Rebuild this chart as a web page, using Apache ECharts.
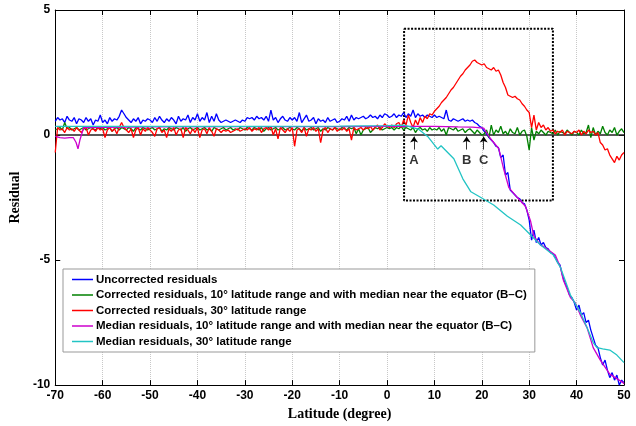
<!DOCTYPE html>
<html><head><meta charset="utf-8">
<script src="https://cdn.jsdelivr.net/npm/echarts@6/dist/echarts.min.js"></script>
<style>html,body{margin:0;padding:0;background:#fff}#c{width:636px;height:426px}</style>
</head><body><div id="c"></div>
<script>
// Sampling grid for the noisy series: -70 .. 50 every 0.5 degree
const latStart = -70, latStep = 0.5;

const xTicks = [-70,-60,-50,-40,-30,-20,-10,0,10,20,30,40,50];
const yTicks = [-10,-5,0,5];

// Uncorrected residuals (blue)
const uncorrected = [
 0.55,0.7,0.6,0.65,0.5,0.75,0.6,0.55,0.7,0.45,0.65,0.6,0.5,0.7,0.55,0.65,0.4,0.6,0.55,0.8,
 0.5,0.6,0.45,0.7,0.55,0.65,0.6,0.75,1.0,0.85,0.7,0.6,0.5,0.65,0.55,0.7,0.45,0.6,0.55,0.65,
 0.6,0.5,0.7,0.55,0.75,0.6,0.5,0.65,0.55,0.7,0.6,0.45,0.75,0.55,0.65,0.6,0.8,0.5,0.7,0.6,
 0.85,0.55,0.7,0.6,0.9,0.5,0.75,0.55,0.85,0.6,0.5,0.55,0.6,0.55,0.5,0.55,0.6,0.55,0.5,0.6,
 0.55,0.7,0.65,0.7,0.6,0.75,0.65,0.7,0.6,0.75,0.55,1.0,0.6,0.7,0.5,0.65,0.75,0.6,0.55,0.7,
 0.6,0.7,0.55,0.9,0.5,0.65,0.8,0.55,0.6,0.7,0.45,0.65,0.55,0.6,0.5,0.7,0.55,0.6,0.65,0.5,
 0.55,0.65,0.6,0.75,0.55,0.8,0.6,0.7,0.65,0.7,0.75,0.65,0.7,0.8,0.7,0.75,0.65,0.8,0.7,0.85,
 0.8,0.7,0.75,0.85,0.7,0.8,0.75,0.9,0.7,0.85,0.75,1.0,0.7,0.85,0.75,0.8,0.7,0.8,0.75,0.7,
 0.8,0.7,0.75,0.7,0.65,1.0,0.6,0.55,0.65,0.6,0.55,0.6,0.65,0.55,0.6,0.55,0.6,0.5,0.45,0.35,
 0.3,0.15,0.05,-0.1,-0.2,-0.3,-0.45,-0.5,-0.9,-0.8,-1.6,-1.5,-2.2,-2.3,-2.4,-2.5,-2.55,-2.7,-2.75,-3.0,
 -3.4,-4.2,-3.8,-4.3,-4.1,-4.4,-4.3,-4.5,-4.55,-4.7,-4.75,-4.9,-5.1,-5.2,-5.6,-5.9,-6.1,-6.4,-6.5,-6.7,
 -7.0,-6.8,-7.2,-7.1,-7.5,-7.4,-7.8,-8.1,-8.4,-8.5,-8.9,-9.2,-9.0,-9.4,-9.7,-9.5,-9.8,-9.6,-10.0,-9.8,
 -9.9
];

// Corrected residuals, 10 deg range with median near the equator (green)
const corrected10 = [
 0.2,0.25,0.3,0.2,0.5,0.25,0.3,0.2,0.25,0.3,0.2,0.25,0.3,0.2,0.25,0.3,0.25,0.2,0.3,0.25,
 0.3,0.2,0.25,0.3,0.15,0.25,0.3,0.2,0.3,0.25,0.2,0.3,0.25,0.15,0.3,0.25,0.2,0.3,0.25,0.2,
 0.25,0.3,0.2,0.25,0.3,0.15,0.25,0.2,0.3,0.25,0.2,0.3,0.25,0.2,0.3,0.15,0.25,0.3,0.2,0.25,
 0.3,0.2,0.25,0.3,0.2,0.25,0.15,0.3,0.25,0.2,0.25,0.3,0.2,0.25,0.3,0.2,0.25,0.2,0.3,0.25,
 0.2,0.3,0.25,0.2,0.3,0.25,0.2,0.3,0.15,0.25,0.3,0.2,0.25,0.3,0.2,0.25,0.3,0.2,0.25,0.3,
 0.25,0.2,0.3,0.25,0.15,0.3,0.2,0.25,0.3,0.2,0.25,0.3,0.15,0.25,0.2,0.3,0.25,0.2,0.3,0.25,
 0.2,0.3,0.25,0.2,0.3,0.25,0.3,0.05,0.25,0.0,0.2,0.25,0.3,0.1,0.2,0.3,0.25,0.3,0.2,0.25,
 0.3,0.25,0.3,0.2,0.3,0.25,0.35,0.2,0.3,0.25,0.2,0.3,0.1,0.25,0.3,0.2,0.25,0.15,0.3,0.2,
 0.25,0.2,0.3,0.15,0.25,0.0,0.3,0.25,0.2,0.3,0.15,0.2,0.25,0.1,0.2,0.25,0.15,0.05,0.2,0.1,
 0.0,0.05,0.2,-0.1,0.4,0.0,0.2,0.1,0.35,0.05,0.15,0.0,0.25,0.1,0.05,0.3,0.0,0.15,0.2,-0.05,
 -0.6,0.3,-0.2,0.15,0.05,0.2,0.1,0.0,0.15,0.1,0.05,0.2,0.0,0.15,0.1,0.05,0.2,0.1,0.0,0.15,
 0.1,0.0,0.2,0.05,0.1,0.4,-0.1,0.3,0.0,0.15,0.05,0.35,0.1,0.0,0.2,0.1,0.3,0.0,0.15,0.25,
 0.1
];

// Corrected residuals, 30 deg range (red)
const corrected30 = [
 -0.7,0.3,0.2,0.25,0.1,0.3,0.2,0.25,0.15,0.3,0.2,0.1,0.25,0.3,0.0,0.2,0.25,0.15,0.3,0.2,
 0.25,-0.1,0.2,0.3,0.15,0.25,0.05,0.3,0.5,0.3,0.2,0.1,0.25,-0.1,0.2,0.3,0.0,0.25,0.15,0.3,
 0.2,0.1,-0.05,0.25,0.3,0.1,0.2,-0.1,0.25,0.15,0.3,0.0,0.2,0.25,-0.1,0.3,0.2,0.05,0.25,0.1,
 0.3,-0.1,0.2,0.25,0.05,0.3,0.15,-0.05,0.25,0.2,0.1,0.2,0.15,0.2,0.1,0.15,0.2,0.25,0.15,0.2,
 0.25,0.2,0.3,0.15,0.25,0.2,0.3,0.1,0.25,0.3,0.2,0.35,0.0,0.25,-0.15,0.3,0.2,0.1,0.25,0.15,
 0.3,-0.45,0.2,0.25,0.1,0.3,-0.05,0.25,0.2,0.3,0.15,0.25,-0.3,0.2,0.3,0.1,0.25,0.2,0.3,0.15,
 0.25,0.2,0.3,0.15,0.25,-0.2,0.3,0.2,0.25,0.3,0.2,0.3,0.25,0.35,0.2,0.3,0.4,0.2,0.3,0.45,
 0.35,0.3,0.4,0.3,0.45,0.5,0.3,0.6,0.4,0.8,0.5,0.3,0.6,0.4,0.7,0.5,0.75,0.65,0.85,0.8,
 0.95,1.05,1.15,1.3,1.4,1.5,1.65,1.8,1.9,2.05,2.2,2.35,2.45,2.6,2.7,2.8,2.95,3.0,2.9,2.85,
 2.8,2.85,2.7,2.65,2.6,2.7,2.55,2.6,2.4,2.1,1.9,1.6,1.55,1.5,1.55,1.45,1.4,1.25,1.15,1.0,
 0.9,0.3,0.8,0.2,0.5,0.3,0.4,0.2,0.3,0.15,0.2,0.05,0.15,0.1,0.2,0.0,0.15,0.1,0.05,0.15,
 0.1,0.2,0.0,0.15,0.05,0.2,0.1,0.15,0.0,0.1,-0.3,-0.4,-0.6,-0.55,-0.8,-0.95,-1.1,-0.85,-1.0,-0.8,
 -0.7
];

// Median residuals, 10 deg range with median near the equator (purple)
const median10Lat = [-70,-69,-68,-67,-66.2,-65.6,-65.2,-64.8,-64,-50,-30,-10,0,5,10,15,18,20.4,21.9,23.6,24.6,25.7,27.5,29.2,30.3,31,32.4,33,35.5,36.6,37.2,38.7,39.7,40.8,42.2,43.5,45,47,49.8,50];
const median10Res = [-0.05,-0.1,-0.12,-0.1,-0.1,-0.3,-0.55,-0.2,0.3,0.33,0.34,0.34,0.35,0.35,0.35,0.33,0.32,0.28,-0.16,-0.55,-1.35,-2.1,-2.5,-2.85,-3.45,-4.05,-4.4,-4.45,-4.8,-5.3,-5.8,-6.5,-6.7,-7.2,-7.7,-8.5,-9.0,-9.56,-9.9,-9.95];

// Median residuals, 30 deg range (cyan)
const median30Lat = [-70,-50,-30,-10,0,3.6,6.6,8.7,10.7,11.4,14.1,16,17.7,19.8,22.5,25.4,28.2,30.3,32.4,35.1,36.6,38.7,40.8,42.2,43.5,44.3,45.5,47,48.5,50];
const median30Res = [0.35,0.35,0.35,0.36,0.38,0.4,0.24,-0.08,-0.56,-0.43,-0.95,-1.75,-2.27,-2.5,-2.8,-3.25,-3.6,-4.0,-4.4,-4.8,-5.3,-6.4,-7.1,-7.7,-8.3,-8.5,-8.55,-8.6,-8.8,-9.1];

// Annotation: dotted box and A/B/C markers
const boxLat = [3.6,35,35,3.6,3.6];
const boxRes = [4.25,4.25,-2.62,-2.62,4.25];
const markerLabels = ['A','B','C'];
const markerLat = [5.7,16.8,20.4];

const names = [
 'Uncorrected residuals',
 'Corrected residuals, 10° latitude range and with median near the equator (B–C)',
 'Corrected residuals, 30° latitude range',
 'Median residuals, 10° latitude range and with median near the equator (B–C)',
 'Median residuals, 30° latitude range'
];
const colors = ['#0000ff','#008000','#ff0000','#cc00cc','#22c4c4'];

const onGrid = arr => arr.map((v,i)=>[latStart + i*latStep, v]);
const pairs = (a,b) => a.map((v,i)=>[v,b[i]]);

const chart = echarts.init(document.getElementById('c'), null, {renderer:'canvas'});
const lineBase = {type:'line', showSymbol:false, symbol:'none', animation:false};

const option = {
 animation:false,
 grid:{left:52,right:12,top:10,bottom:37},
 xAxis:[{
   type:'value', min:-70, max:50, interval:10,
   axisLine:{onZero:false,lineStyle:{color:'#000',width:1}},
   axisTick:{inside:true,length:5,lineStyle:{color:'#000'}},
   axisLabel:{color:'#000',fontFamily:'Liberation Sans, Arial',fontWeight:'bold',fontSize:12,margin:5},
   splitLine:{show:true,lineStyle:{color:'#c8c8c8',type:'dotted',width:1}},
   name:'Latitude (degree)', nameLocation:'middle', nameGap:21,
   nameTextStyle:{color:'#000',fontFamily:'Liberation Serif, Times New Roman',fontWeight:'bold',fontSize:14}
 },{
   type:'value', min:-70, max:50, interval:10, position:'top',
   axisLine:{onZero:false,lineStyle:{color:'#000',width:1}},
   axisTick:{inside:true,length:5,lineStyle:{color:'#000'}},
   axisLabel:{show:false}, splitLine:{show:false}
 }],
 yAxis:[{
   type:'value', min:-10, max:5, interval:5,
   axisLine:{show:true,onZero:false,lineStyle:{color:'#000',width:1}},
   axisTick:{show:true,inside:true,length:5,lineStyle:{color:'#000'}},
   axisLabel:{color:'#000',fontFamily:'Liberation Sans, Arial',fontWeight:'bold',fontSize:12,margin:5},
   splitLine:{show:false},
   name:'Residual', nameLocation:'middle', nameGap:28,
   nameTextStyle:{color:'#000',fontFamily:'Liberation Serif, Times New Roman',fontWeight:'bold',fontSize:14}
 },{
   type:'value', min:-10, max:5, interval:5, position:'right',
   axisLine:{show:true,onZero:false,lineStyle:{color:'#000',width:1}},
   axisTick:{show:true,inside:true,length:5,lineStyle:{color:'#000'}},
   axisLabel:{show:false}, splitLine:{show:false}
 }],
 legend:{
   data:names, orient:'vertical', left:63, top:269,
   backgroundColor:'#fff', borderColor:'#999', borderWidth:1,
   padding:[4,8,4,9], itemGap:2.5, itemWidth:21, itemHeight:1.5, icon:'rect',
   textStyle:{color:'#000',fontFamily:'Liberation Sans, Arial',fontWeight:'bold',fontSize:11.5,lineHeight:13,padding:[0,0,0,-2]}
 },
 series:[
  Object.assign({}, lineBase, {name:'zero', data:[[-70,0],[50,0]], lineStyle:{color:'#222',width:1.5}, z:1, silent:true}),
  Object.assign({}, lineBase, {name:'box', data:pairs(boxLat,boxRes), lineStyle:{color:'#000',width:2,type:[2,1.5]}, z:1, silent:true}),
  Object.assign({}, lineBase, {name:names[0], data:onGrid(uncorrected), color:colors[0], lineStyle:{color:colors[0],width:1.3}, z:2}),
  Object.assign({}, lineBase, {name:names[1], data:onGrid(corrected10), color:colors[1], lineStyle:{color:colors[1],width:1.3}, z:3}),
  Object.assign({}, lineBase, {name:names[2], data:onGrid(corrected30), color:colors[2], lineStyle:{color:colors[2],width:1.3}, z:4}),
  Object.assign({}, lineBase, {name:names[3], data:pairs(median10Lat,median10Res), color:colors[3], lineStyle:{color:colors[3],width:1.3}, z:5}),
  Object.assign({}, lineBase, {name:names[4], data:pairs(median30Lat,median30Res), color:colors[4], lineStyle:{color:colors[4],width:1.3}, z:6}),
  {
   type:'scatter', name:'markers', z:10, silent:true, animation:false,
   data: markerLat.map((v,i)=>({value:[v,-1.0], label:{formatter:markerLabels[i]}})),
   symbolSize:1, itemStyle:{color:'rgba(0,0,0,0)'},
   label:{show:true, position:'inside', color:'#000', fontFamily:'Liberation Sans, Arial', fontWeight:'bold', fontSize:13},
   markLine:{
     silent:true, animation:false, symbol:['none','arrow'], symbolSize:6,
     label:{show:false},
     itemStyle:{color:'#000'},
     lineStyle:{color:'#000',width:0.8,type:'solid'},
     data: markerLat.map(v=>[{coord:[v,-0.58]},{coord:[v,-0.06]}])
   }
  }
 ]
};
chart.setOption(option);
</script></body></html>
